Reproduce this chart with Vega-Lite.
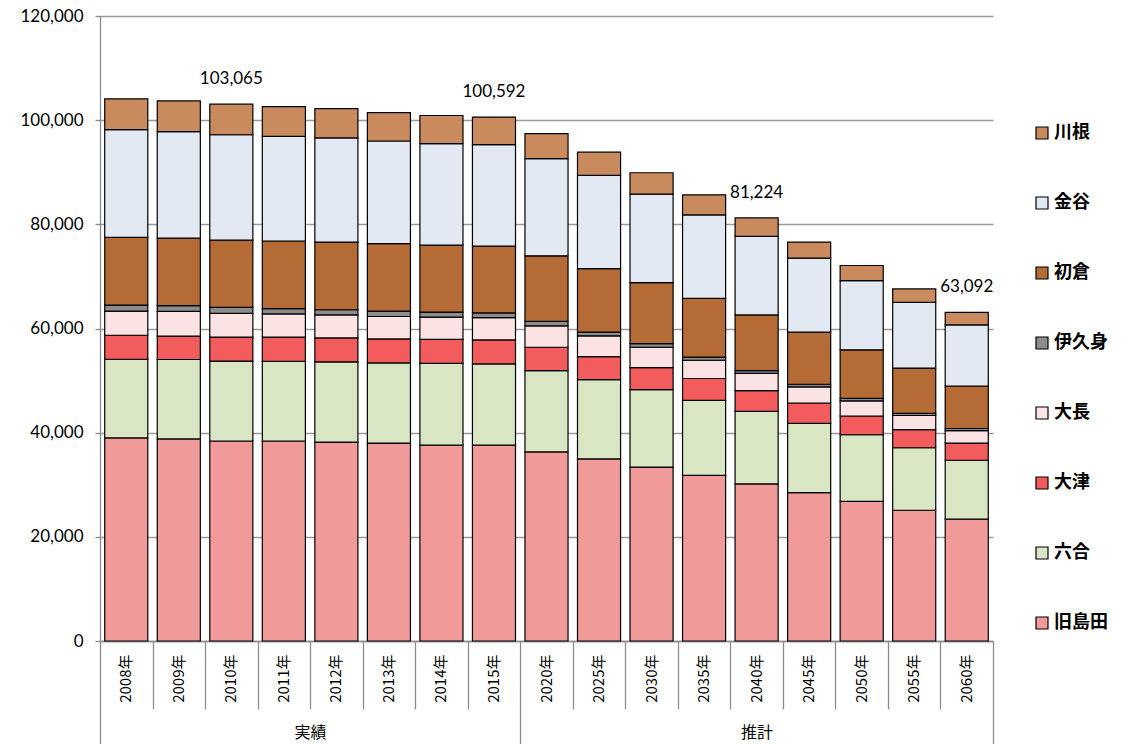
{
  "$schema": "https://vega.github.io/schema/vega-lite/v6.json",
  "width": 893,
  "height": 625,
  "autosize": {"type": "none"},
  "padding": {"left": 100, "top": 16, "right": 140, "bottom": 103},
  "background": "white",
  "config": {"view": {"stroke": null}, "font": "Lato"},
  "datasets": {
    "pop": [
      {"年": "2008年", "区分": "実績", "旧島田": 39000, "六合": 15100, "大津": 4600, "大長": 4650, "伊久身": 1150, "初倉": 13000, "金谷": 20700, "川根": 5900},
      {"年": "2009年", "区分": "実績", "旧島田": 38800, "六合": 15250, "大津": 4500, "大長": 4750, "伊久身": 1100, "初倉": 12950, "金谷": 20450, "川根": 5900},
      {"年": "2010年", "区分": "実績", "旧島田": 38400, "六合": 15350, "大津": 4600, "大長": 4550, "伊久身": 1150, "初倉": 12900, "金谷": 20250, "川根": 5865},
      {"年": "2011年", "区分": "実績", "旧島田": 38400, "六合": 15300, "大津": 4650, "大長": 4450, "伊久身": 1000, "初倉": 13000, "金谷": 20100, "川根": 5700},
      {"年": "2012年", "区分": "実績", "旧島田": 38200, "六合": 15400, "大津": 4600, "大長": 4400, "伊久身": 1000, "初倉": 13000, "金谷": 20000, "川根": 5600},
      {"年": "2013年", "区分": "実績", "旧島田": 38000, "六合": 15400, "大津": 4600, "大長": 4300, "伊久身": 1050, "初倉": 12950, "金谷": 19700, "川根": 5450},
      {"年": "2014年", "区分": "実績", "旧島田": 37600, "六合": 15700, "大津": 4600, "大長": 4300, "伊久身": 950, "初倉": 12850, "金谷": 19500, "川根": 5400},
      {"年": "2015年", "区分": "実績", "旧島田": 37600, "六合": 15600, "大津": 4600, "大長": 4300, "伊久身": 900, "初倉": 12800, "金谷": 19500, "川根": 5292},
      {"年": "2020年", "区分": "推計", "旧島田": 36300, "六合": 15600, "大津": 4500, "大長": 4100, "伊久身": 850, "初倉": 12600, "金谷": 18650, "川根": 4800},
      {"年": "2025年", "区分": "推計", "旧島田": 34950, "六合": 15250, "大津": 4400, "大長": 4000, "伊久身": 700, "初倉": 12200, "金谷": 17900, "川根": 4450},
      {"年": "2030年", "区分": "推計", "旧島田": 33400, "六合": 14850, "大津": 4250, "大長": 3900, "伊久身": 700, "初倉": 11700, "金谷": 17000, "川根": 4100},
      {"年": "2035年", "区分": "推計", "旧島田": 31800, "六合": 14400, "大津": 4200, "大長": 3500, "伊久身": 600, "初倉": 11300, "金谷": 16000, "川根": 3860},
      {"年": "2040年", "区分": "推計", "旧島田": 30150, "六合": 13950, "大津": 3960, "大長": 3340, "伊久身": 500, "初倉": 10700, "金谷": 15100, "川根": 3524},
      {"年": "2045年", "区分": "推計", "旧島田": 28500, "六合": 13300, "大津": 3900, "大長": 3100, "伊久身": 500, "初倉": 10000, "金谷": 14200, "川根": 3100},
      {"年": "2050年", "区分": "推計", "旧島田": 26800, "六合": 12800, "大津": 3600, "大長": 2900, "伊久身": 500, "初倉": 9300, "金谷": 13300, "川根": 2900},
      {"年": "2055年", "区分": "推計", "旧島田": 25100, "六合": 12000, "大津": 3500, "大長": 2700, "伊久身": 400, "初倉": 8700, "金谷": 12600, "川根": 2600},
      {"年": "2060年", "区分": "推計", "旧島田": 23400, "六合": 11300, "大津": 3300, "大長": 2400, "伊久身": 400, "初倉": 8160, "金谷": 11740, "川根": 2392}
    ],
    "order": [
      {"地区": "旧島田", "順": 1},
      {"地区": "六合", "順": 2},
      {"地区": "大津", "順": 3},
      {"地区": "大長", "順": 4},
      {"地区": "伊久身", "順": 5},
      {"地区": "初倉", "順": 6},
      {"地区": "金谷", "順": 7},
      {"地区": "川根", "順": 8}
    ],
    "groupAxis": [{"p": 0}, {"p": 17}]
  },
  "layer": [
    {
      "data": {"name": "pop"},
      "transform": [
        {"fold": ["旧島田", "六合", "大津", "大長", "伊久身", "初倉", "金谷", "川根"], "as": ["地区", "人口"]},
        {"lookup": "地区", "from": {"data": {"name": "order"}, "key": "地区", "fields": ["順"]}}
      ],
      "layer": [
        {
          "mark": {"type": "bar", "width": {"band": 0.82}, "stroke": "#000000", "strokeWidth": 1.2},
          "encoding": {
            "x": {
              "field": "年", "type": "nominal", "sort": null,
              "scale": {"paddingInner": 0, "paddingOuter": 0},
              "axis": {
                "orient": "bottom", "title": null, "ticks": false,
                "domain": true, "domainColor": "#8c8c8c", "domainWidth": 1.3,
                "labelAngle": -90, "labelPadding": 13,
                "labelFont": "Noto Sans CJK JP", "labelFontSize": 15, "labelColor": "#000000"
              }
            },
            "y": {
              "field": "人口", "type": "quantitative", "stack": "zero",
              "scale": {"domain": [0, 120000], "nice": false},
              "axis": {
                "title": null, "values": [0, 20000, 40000, 60000, 80000, 100000, 120000],
                "labelExpr": "format(datum.value, ',.0f')",
                "labelFont": "Lato", "labelFontSize": 17, "labelColor": "#000000",
                "labelPadding": 12, "tickSize": 5, "tickColor": "#8c8c8c", "tickWidth": 1.3,
                "domainColor": "#8c8c8c", "domainWidth": 1.3,
                "grid": true, "gridColor": "#9a9a9a", "gridWidth": 1.3
              }
            },
            "color": {
              "field": "地区", "type": "nominal",
              "scale": {
                "domain": ["川根", "金谷", "初倉", "伊久身", "大長", "大津", "六合", "旧島田"],
                "range": ["#C98B5E", "#E3E9F3", "#B56B35", "#8C8C8C", "#FCE3E3", "#F25C5C", "#D9E6C4", "#F09A9A"]
              },
              "legend": {
                "orient": "none", "legendX": 933, "legendY": 108, "title": null, "padding": 0,
                "symbolType": "square", "symbolSize": 144, "symbolStrokeColor": "#000000", "symbolStrokeWidth": 1.2,
                "labelFont": "Noto Sans CJK JP", "labelFontSize": 18, "labelFontWeight": "bold",
                "labelColor": "#000000", "rowPadding": 52, "labelOffset": 3
              }
            },
            "order": {"field": "順", "type": "quantitative"}
          }
        },
        {
          "transform": [
            {"filter": {"field": "年", "oneOf": ["2010年", "2015年", "2040年", "2060年"]}},
            {"aggregate": [{"op": "sum", "field": "人口", "as": "合計"}], "groupby": ["年"]}
          ],
          "mark": {"type": "text", "dy": -25, "baseline": "middle", "font": "Lato", "fontSize": 17, "color": "#000000"},
          "encoding": {
            "x": {"field": "年", "type": "nominal", "sort": null},
            "y": {
              "field": "合計", "type": "quantitative",
              "axis": {
                "title": null, "values": [0, 20000, 40000, 60000, 80000, 100000, 120000],
                "labelExpr": "format(datum.value, ',.0f')",
                "labelFont": "Lato", "labelFontSize": 17, "labelColor": "#000000",
                "labelPadding": 12, "tickSize": 5, "tickColor": "#8c8c8c", "tickWidth": 1.3,
                "domainColor": "#8c8c8c", "domainWidth": 1.3,
                "grid": true, "gridColor": "#9a9a9a", "gridWidth": 1.3
              }
            },
            "text": {"field": "合計", "type": "quantitative", "format": ",.0f"}
          }
        }
      ]
    },
    {
      "data": {"name": "groupAxis"},
      "mark": {"type": "point", "opacity": 0},
      "encoding": {
        "x": {
          "field": "p", "type": "quantitative",
          "scale": {"domain": [0, 17], "nice": false, "zero": false},
          "axis": {
            "orient": "bottom", "title": null, "grid": false, "domain": false,
            "values": [0, 1, 2, 3, 4, 5, 6, 7, 8, 9, 10, 11, 12, 13, 14, 15, 16, 17, 12.5],
            "tickSize": {"condition": {"test": "datum.value == 0 || datum.value == 8 || datum.value == 17", "value": 103}, "value": 68},
            "tickOpacity": {"condition": {"test": "datum.value == 12.5", "value": 0}, "value": 1},
            "tickColor": "#8c8c8c", "tickWidth": 1.3,
            "labelExpr": "datum.value == 4 ? '実績' : (datum.value == 12.5 ? '推計' : '')",
            "labelOverlap": false, "labelFlush": false, "labelBound": false, "labelAngle": 0,
            "labelFont": "Noto Sans CJK JP", "labelFontSize": 16, "labelColor": "#000000",
            "labelPadding": 15, "labelBaseline": "top"
          }
        }
      }
    }
  ],
  "resolve": {"scale": {"x": "independent"}, "axis": {"x": "independent"}}
}
